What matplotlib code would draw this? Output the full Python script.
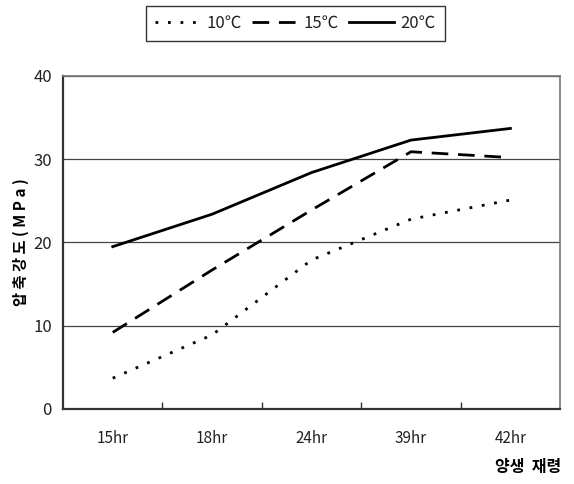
import matplotlib
matplotlib.use("Agg")
import matplotlib.pyplot as plt

plt.rcParams["font.family"] = ["Noto Sans CJK KR", "DejaVu Sans"]

categories = ["15hr", "18hr", "24hr", "39hr", "42hr"]
temp_10 = [3.7, 8.9, 17.9, 22.8, 25.1]
temp_15 = [9.2, 16.7, 23.9, 30.9, 30.2]
temp_20 = [19.5, 23.4, 28.4, 32.3, 33.7]
series_labels = ["10\u2103", "15\u2103", "20\u2103"]

fig = plt.figure(figsize=(5.74, 4.84), dpi=100)
ax = fig.add_axes([0.1098, 0.155, 0.866, 0.688])

x = range(len(categories))
ax.plot(x, temp_10, color="black", lw=2.0, linestyle=(0, (1.0, 3.5)), label=series_labels[0])
ax.plot(x, temp_15, color="black", lw=2.0, linestyle=(0, (6, 3.5)), label=series_labels[1])
ax.plot(x, temp_20, color="black", lw=2.0, linestyle="-", label=series_labels[2])

ax.set_xlim(-0.5, len(categories) - 0.5)
ax.set_ylim(0, 40)
ax.set_yticks([0, 10, 20, 30, 40])
ax.set_xticks(list(x))
ax.set_xticklabels(categories)
ax.set_xticks([i + 0.5 for i in range(len(categories) - 1)], minor=True)
ax.tick_params(axis="x", which="major", length=0, pad=15, labelsize=11, labelcolor="#222222")
ax.tick_params(axis="x", which="minor", direction="in", length=5, width=1, color="#333333")
ax.tick_params(axis="y", length=0, pad=8, labelsize=12, labelcolor="#222222")
ax.grid(axis="y", color="#444444", lw=0.9)
ax.set_axisbelow(True)
for side in ["left", "bottom"]:
    ax.spines[side].set_linewidth(1.6)
    ax.spines[side].set_color("#333333")
for side in ["top", "right"]:
    ax.spines[side].set_linewidth(1.2)
    ax.spines[side].set_color("#777777")

ax.set_ylabel("압 축 강 도 ( M P a )", fontsize=11, fontweight="bold", labelpad=3)
fig.text(0.977, 0.035, "양생  재령", fontsize=11.5, fontweight="bold", ha="right", va="center")

leg = fig.legend(loc="center", bbox_to_anchor=(0.515, 0.951), ncol=3, frameon=True,
                 fancybox=False, edgecolor="black", handlelength=2.7, handletextpad=0.4,
                 columnspacing=0.6, fontsize=12, borderpad=0.55, labelcolor="#222222")
leg.get_frame().set_linewidth(1.0)

fig.savefig("out.png", dpi=100)
